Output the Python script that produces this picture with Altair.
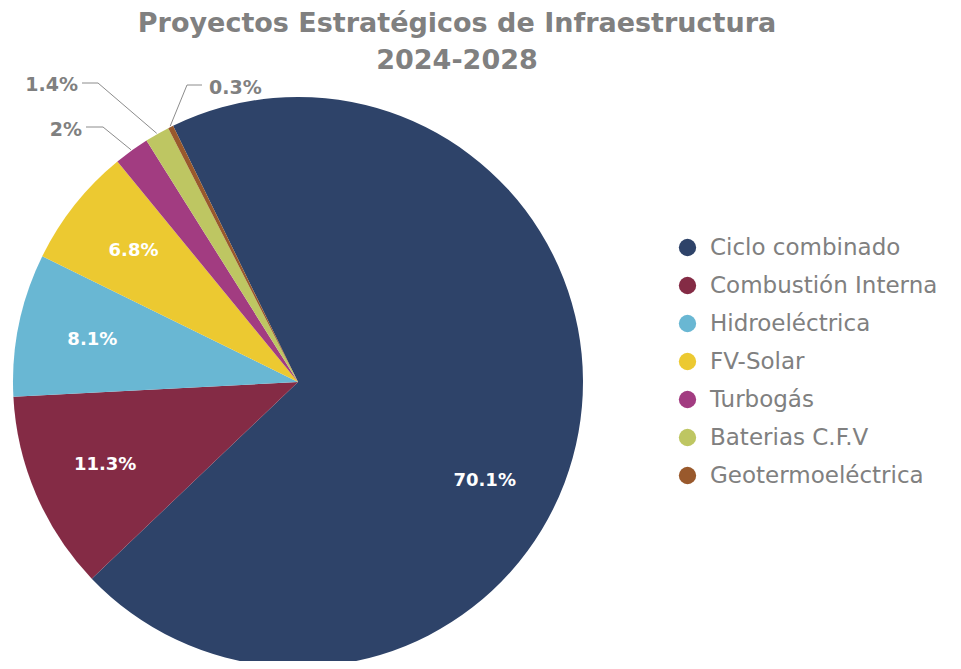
import math
import altair as alt
import pandas as pd

# ---- data ----
categories = ["Ciclo combinado", "Combustión Interna", "Hidroeléctrica", "FV-Solar",
              "Turbogás", "Baterias C.F.V", "Geotermoeléctrica"]
shares = [70.1, 11.3, 8.1, 6.8, 2.0, 1.4, 0.3]
pct_labels = ["70.1%", "11.3%", "8.1%", "6.8%", "2%", "1.4%", "0.3%"]
colors = ["#2E4369", "#842B45", "#69B7D3", "#ECC931", "#A23C81", "#BEC662", "#99592C"]
title_lines = ["Proyectos Estratégicos de Infraestructura", "2024-2028"]

# annotation placement for the three thin slices (outside labels)
outer_cats = ["Turbogás", "Baterias C.F.V", "Geotermoeléctrica"]
outer_text_x = [74, 70, 201]
outer_text_y = [122, 77, 80]
outer_align = ["right", "right", "left"]
outer_line_start = [78, 74, 194]
outer_knee_x = [95, 90, 179]
outer_line_y = [119, 75, 77]

# ---- layout constants ----
W, H = 945, 653
CX, CY, R = 290, 374, 285
START = math.radians(-26)
FONT = "DejaVu Sans"
GREY = "#808080"

inside = {"Ciclo combinado", "Combustión Interna", "Hidroeléctrica", "FV-Solar"}
df = pd.DataFrame({
    "category": categories,
    "share": shares,
    "idx": list(range(len(categories))),
    "lab_in": [l if (c in inside and c != "Ciclo combinado") else "" for c, l in zip(categories, pct_labels)],
    "lab_big": [l if c == "Ciclo combinado" else "" for c, l in zip(categories, pct_labels)],
})

theta = alt.Theta("share:Q", stack=True, scale=alt.Scale(range=[START, START + 2 * math.pi]))
order = alt.Order("idx:Q")

pie = alt.Chart(df).mark_arc(radius=R, strokeWidth=0).encode(
    theta=theta,
    order=order,
    x=alt.value(CX),
    y=alt.value(CY),
    color=alt.Color(
        "category:N",
        sort=categories,
        scale=alt.Scale(domain=categories, range=colors),
        legend=alt.Legend(
            orient="none", legendX=668, legendY=228, title=None,
            symbolType="circle", symbolSize=300, symbolStrokeWidth=0,
            labelFont=FONT, labelFontSize=23, labelColor=GREY,
            labelOffset=11, rowPadding=14, labelLimit=400,
        ),
    ),
)

inner_text = alt.Chart(df).mark_text(
    radius=210, font=FONT, fontWeight="bold", fontSize=18, color="white"
).encode(theta=theta, order=order, x=alt.value(CX), y=alt.value(CY), text="lab_in:N")

big_text = alt.Chart(df).mark_text(
    radius=210, font=FONT, fontWeight="bold", fontSize=18, color="white", dx=-20, dy=62
).encode(theta=theta, order=order, x=alt.value(CX), y=alt.value(CY), text="lab_big:N")

# leader lines: slice edge point computed from the data
cum = 0.0
edge = {}
for c, s in zip(categories, shares):
    a = START + 2 * math.pi * (cum + s / 2) / 100.0
    edge[c] = (CX + (R + 1) * math.sin(a), CY - (R + 1) * math.cos(a))
    cum += s

rows = []
for c, lx, kx, ly in zip(outer_cats, outer_line_start, outer_knee_x, outer_line_y):
    rows.append({"cat": c, "p": 0, "x": lx, "y": ly})
    rows.append({"cat": c, "p": 1, "x": kx, "y": ly})
    rows.append({"cat": c, "p": 2, "x": edge[c][0], "y": edge[c][1]})
lines_df = pd.DataFrame(rows)

xs = alt.Scale(domain=[0, W], range=[0, W], nice=False, zero=False)
ys = alt.Scale(domain=[0, H], range=[0, H], nice=False, zero=False)

leaders = alt.Chart(lines_df).mark_line(color="#8C8C8C", strokeWidth=1).encode(
    x=alt.X("x:Q", scale=xs, axis=None),
    y=alt.Y("y:Q", scale=ys, axis=None),
    detail="cat:N",
    order="p:Q",
)

out_df = pd.DataFrame({
    "cat": outer_cats,
    "x": outer_text_x,
    "y": outer_text_y,
    "align": outer_align,
    "label": [pct_labels[categories.index(c)] for c in outer_cats],
})

out_layers = []
for al in ["right", "left"]:
    out_layers.append(
        alt.Chart(out_df).transform_filter(alt.datum.align == al).mark_text(
            align=al, baseline="middle", font=FONT, fontWeight="bold", fontSize=19, color=GREY
        ).encode(
            x=alt.X("x:Q", scale=xs, axis=None),
            y=alt.Y("y:Q", scale=ys, axis=None),
            text="label:N",
        )
    )

title_df = pd.DataFrame({"t": title_lines, "y": [16, 53]})
title = alt.Chart(title_df).mark_text(
    font=FONT, fontWeight="bold", fontSize=27, color=GREY, align="center", baseline="middle"
).encode(x=alt.value(449), y=alt.Y("y:Q", scale=ys, axis=None), text="t:N")

chart = alt.layer(pie, inner_text, big_text, leaders, *out_layers, title).properties(
    width=W, height=H, padding=0, autosize="none"
).configure_view(strokeWidth=0)

chart.save("out.html", embed_options={"renderer": "svg", "actions": False})
